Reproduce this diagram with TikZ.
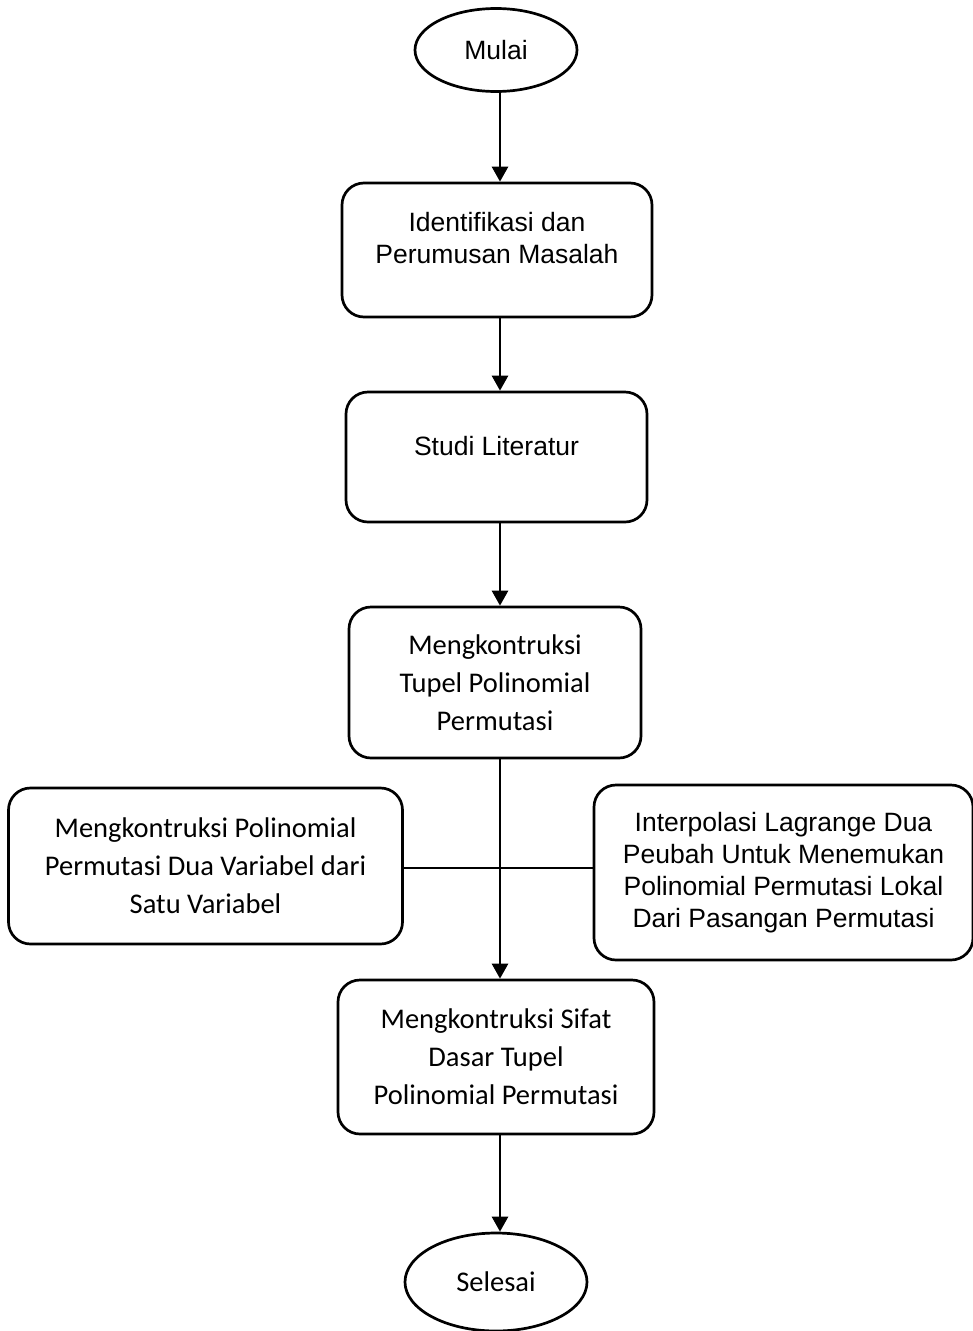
\documentclass[tikz,border=0pt]{standalone}
\usepackage{fontspec}
\setmainfont{Liberation Sans}
\newfontfamily\calib{Carlito}
\usetikzlibrary{arrows.meta,shapes.geometric}
\begin{document}
\begin{tikzpicture}[x=1pt,y=-1pt,
  line width=2.7pt,
  arial/.style={font=\fontsize{26.5}{32}\selectfont},
  calibri/.style={font=\calib\fontsize{28.5}{38}\selectfont},
  box/.style={draw,rounded corners=22pt,inner sep=0pt,align=center},
  oval/.style={draw,ellipse,inner sep=0pt},
  arr/.style={-{Triangle[width=16pt,length=15pt]}}]
\useasboundingbox (0,0) rectangle (973,1331);
\node[oval,minimum width=162pt,minimum height=83pt,arial] (start) at (496,50) {Mulai};
\node[box,minimum width=310pt,minimum height=134pt,
  label={[arial,align=center,yshift=12pt]center:Identifikasi dan\\Perumusan Masalah}] (b1) at (497,250) {};
\node[box,minimum width=301pt,minimum height=130pt,
  label={[arial,align=center,yshift=11pt]center:Studi Literatur}] (b2) at (496.5,457) {};
\node[box,minimum width=292pt,minimum height=151pt,calibri] (b3) at (495,682.5)
  {Mengkontruksi\\Tupel Polinomial\\Permutasi};
\node[box,minimum width=394pt,minimum height=156pt,calibri] (lf) at (205.5,866)
  {Mengkontruksi Polinomial\\Permutasi Dua Variabel dari\\Satu Variabel};
\node[box,minimum width=379pt,minimum height=175pt,arial] (rt) at (783.5,872.5)
  {Interpolasi Lagrange Dua\\Peubah Untuk Menemukan\\Polinomial Permutasi Lokal\\Dari Pasangan Permutasi};
\node[box,minimum width=316pt,minimum height=154pt,calibri] (b4) at (496,1057)
  {Mengkontruksi Sifat\\Dasar Tupel\\Polinomial Permutasi};
\node[oval,minimum width=182pt,minimum height=98pt,calibri] (end) at (496,1282) {Selesai};
\coordinate (c1) at (500,0);
\draw[arr] (start.south -| c1) -- (b1.north -| c1);
\draw[arr] (b1.south -| c1) -- (b2.north -| c1);
\draw[arr] (b2.south -| c1) -- (b3.north -| c1);
\draw[arr] (b3.south -| c1) -- (b4.north -| c1);
\draw[arr] (b4.south -| c1) -- (end.north -| c1);
\coordinate (h) at (0,868);
\draw (lf.east |- h) -- (rt.west |- h);
\end{tikzpicture}
\end{document}
